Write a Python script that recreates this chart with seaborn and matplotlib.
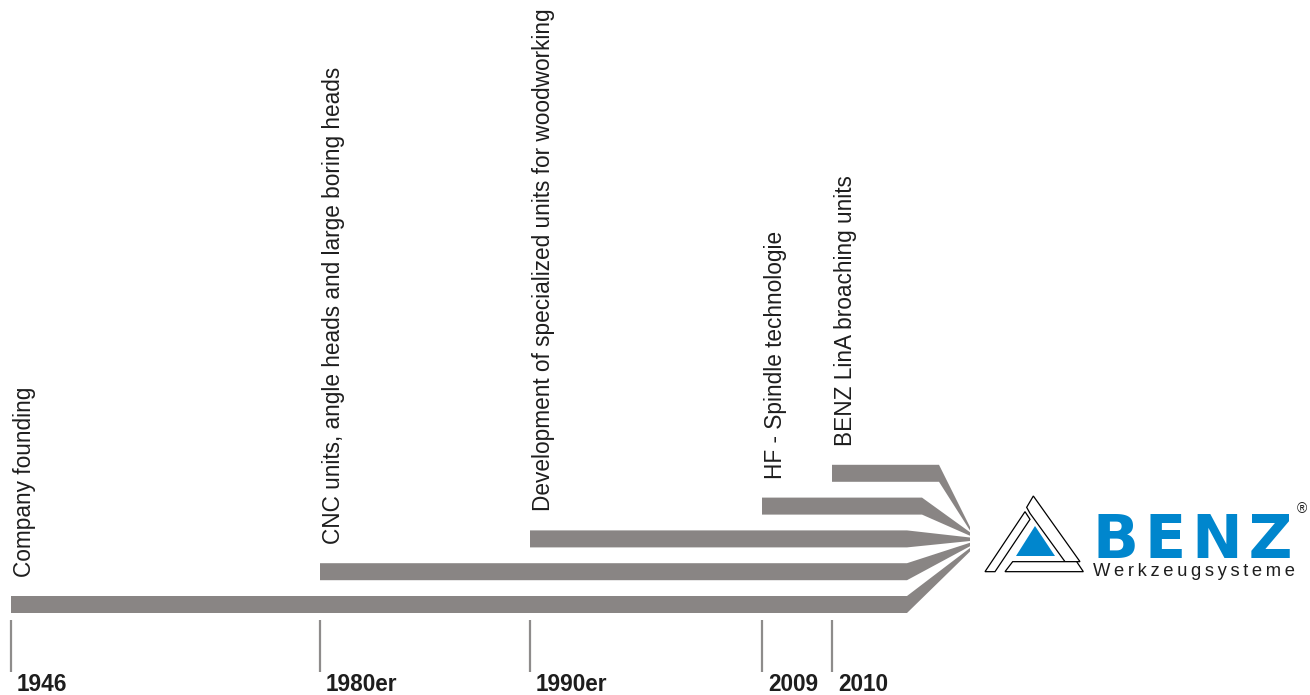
import numpy as np
import matplotlib
matplotlib.use('Agg')
import matplotlib.pyplot as plt
from matplotlib.patches import Polygon
import seaborn as sns

# timeline data
events = ['Company founding',
          'CNC units, angle heads and large boring heads',
          'Development of specialized units for woodworking',
          'HF - Spindle technologie',
          'BENZ LinA broaching units']
years = ['1946', '1980er', '1990er', '2009', '2010']
start_pos = [11, 320, 530, 762, 832]   # position of each milestone on the timeline
bar_end = [907, 907, 907, 922, 939]    # where each band starts to converge

sns.set_theme(style='white')
plt.rcParams['font.family'] = ['Liberation Sans', 'DejaVu Sans']

BAR_COLOR = '#898584'
TICK_COLOR = '#8e8c8b'
BLUE = '#0086cd'
TEXT_COLOR = '#1e1e1e'

fig = plt.figure(figsize=(13.1, 6.95), dpi=100)
ax = fig.add_axes([0, 0, 1, 1])
ax.set_xlim(0, 1310)
ax.set_ylim(695, 0)
ax.axis('off')

n = len(events)
lane_top = 596 - 32.8 * np.arange(n)
bar_h = 17
tip_x = 970
tip_top = 548 - 5.25 * np.arange(n)

# bands that merge into the logo
for i in range(n):
    top, bot = lane_top[i], lane_top[i] + bar_h
    xs = [start_pos[i], bar_end[i], tip_x, tip_x, bar_end[i], start_pos[i]]
    ys = [top, top, tip_top[i], tip_top[i] + 3.5, bot, bot]
    ax.fill(xs, ys, color=BAR_COLOR, linewidth=0)
    ax.text(start_pos[i] + 2, top - 19, events[i], rotation=90, ha='left', va='bottom',
            fontsize=16.3, color=TEXT_COLOR)

# year markers
ax.vlines(start_pos, 620, 672, color=TICK_COLOR, linewidth=1.6)
for x, yr in zip(start_pos, years):
    ax.text(x + 6, 691, yr, ha='left', va='baseline', fontsize=16.3,
            fontweight='bold', color=TEXT_COLOR)

# logo
def zp(pts):
    return [(980 + a / 3, 490 + b / 3) for a, b in pts]

for pts in [[(15, 245), (135, 65), (150, 88), (45, 245)],
            [(140, 52), (160, 18), (300, 215), (255, 215), (150, 70)],
            [(75, 245), (98, 215), (290, 215), (310, 245)]]:
    ax.add_patch(Polygon(zp(pts), closed=True, facecolor='white',
                         edgecolor='black', linewidth=0.9))
ax.add_patch(Polygon(zp([(108, 198), (165, 108), (225, 198)]), closed=True,
                     facecolor=BLUE, edgecolor='none'))

ax.text(1093, 558, '\u200a'.join('BENZ'), ha='left', va='baseline',
        fontsize=43.5, fontweight='bold', color=BLUE, family='DejaVu Sans')
ax.text(1093, 576, '\u2009'.join('Werkzeugsysteme'), ha='left', va='baseline',
        fontsize=13.2, color=TEXT_COLOR, family=['Liberation Sans', 'DejaVu Sans'])
ax.text(1302, 509, '®', ha='center', va='center', fontsize=10, color=TEXT_COLOR)

fig.savefig('out.png', dpi=100)
